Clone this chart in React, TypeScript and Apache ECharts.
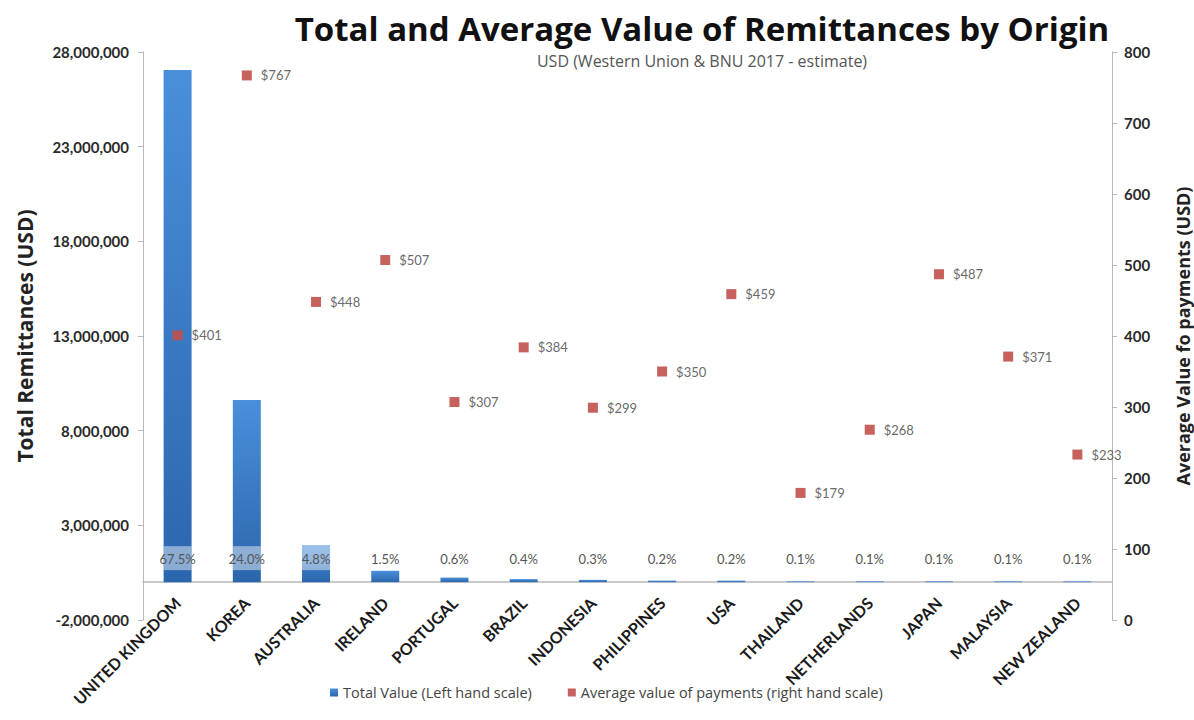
import React, { useEffect, useRef } from "react";
import * as echarts from "echarts";

const categories = [
  "UNITED KINGDOM", "KOREA", "AUSTRALIA", "IRELAND", "PORTUGAL", "BRAZIL", "INDONESIA",
  "PHILIPPINES", "USA", "THAILAND", "NETHERLANDS", "JAPAN", "MALAYSIA", "NEW ZEALAND",
];
const totalValues = [
  27050000, 9620000, 1930000, 600000, 240000, 160000, 120000,
  80000, 80000, 40000, 40000, 40000, 40000, 40000,
];
const shareLabels = [
  "67.5%", "24.0%", "4.8%", "1.5%", "0.6%", "0.4%", "0.3%",
  "0.2%", "0.2%", "0.1%", "0.1%", "0.1%", "0.1%", "0.1%",
];
const avgValues = [401, 767, 448, 507, 307, 384, 299, 350, 459, 179, 268, 487, 371, 233];

const leftTicks = { min: -2000000, max: 28000000, interval: 5000000 };
const rightTicks = { min: 0, max: 800, interval: 100 };

const FONT = "Lato, 'Open Sans', sans-serif";
const WIDE = "'Open Sans', Lato, sans-serif";

export default function App() {
  const ref = useRef<HTMLDivElement>(null);
  useEffect(() => {
    document.body.style.margin = "0";
    const chart = echarts.init(ref.current!, null, { renderer: "svg" });
    chart.setOption({
      animation: false,
      backgroundColor: "#ffffff",
      textStyle: { fontFamily: FONT },
      title: {
        text: "Total and Average Value of Remittances by Origin",
        subtext: "USD (Western Union & BNU 2017 - estimate)",
        left: 697,
        textAlign: "center",
        top: 7,
        itemGap: 8,
        textStyle: { fontFamily: WIDE, fontSize: 33, fontWeight: "bold", color: "#111" },
        subtextStyle: { fontFamily: WIDE, fontSize: 16, color: "#555" },
      },
      legend: {
        bottom: 15,
        left: 325,
        itemWidth: 8,
        itemHeight: 8,
        itemGap: 36,
        icon: "rect",
        textStyle: { fontFamily: WIDE, fontSize: 14.5, color: "#444" },
        data: [
          { name: "Total Value (Left hand scale)" },
          { name: "Average value of payments (right hand scale)" },
        ],
      },
      grid: { left: 143, right: 82, top: 52, bottom: 100, outerBoundsMode: "none", containLabel: false },
      xAxis: {
        type: "category",
        data: categories,
        axisLine: { onZero: true, lineStyle: { color: "#b8b8b8", width: 1.5 } },
        axisTick: { lineStyle: { color: "#b8b8b8" }, length: 6 },
        axisLabel: {
          interval: 0,
          rotate: 45,
          margin: -20,
          fontFamily: FONT,
          fontWeight: "bold",
          fontSize: 16,
          color: "#1a1a1a",
        },
      },
      yAxis: [
        {
          type: "value",
          min: leftTicks.min,
          max: leftTicks.max,
          interval: leftTicks.interval,
          name: "Total Remittances (USD)",
          nameLocation: "middle",
          nameGap: 108,
          nameTextStyle: { fontFamily: WIDE, fontSize: 21, fontWeight: "bold", color: "#222" },
          axisLine: { show: true, lineStyle: { color: "#b8b8b8" } },
          axisTick: { show: true, length: 5, lineStyle: { color: "#b8b8b8" } },
          splitLine: { show: false },
          axisLabel: {
            fontFamily: FONT,
            fontWeight: "bold",
            fontSize: 15,
            color: "#2a2a2a",
            margin: 14,
            formatter: (v: number) => v.toLocaleString("en-US"),
          },
        },
        {
          type: "value",
          min: rightTicks.min,
          max: rightTicks.max,
          interval: rightTicks.interval,
          position: "right",
          name: "Average Value fo payments (USD)",
          nameLocation: "middle",
          nameGap: 62,
          nameTextStyle: { fontFamily: WIDE, fontSize: 18, fontWeight: "bold", color: "#222" },
          axisLine: { show: true, lineStyle: { color: "#b8b8b8" } },
          axisTick: { show: true, length: 5, lineStyle: { color: "#b8b8b8" } },
          splitLine: { show: false },
          axisLabel: {
            fontFamily: FONT,
            fontWeight: "bold",
            fontSize: 15,
            color: "#2a2a2a",
            margin: 12,
          },
        },
      ],
      series: [
        {
          name: "Total Value (Left hand scale)",
          type: "bar",
          yAxisIndex: 0,
          barWidth: 28,
          data: totalValues,
          itemStyle: {
            color: new echarts.graphic.LinearGradient(0, 0, 0, 1, [
              { offset: 0, color: "#4a8fda" },
              { offset: 1, color: "#2b66ad" },
            ]),
          },
          label: {
            show: true,
            position: "insideBottom",
            distance: 12,
            fontFamily: FONT,
            fontSize: 13,
            color: "#555",
            backgroundColor: "rgba(255,255,255,0.45)",
            padding: [6, 0, 5, 0],
            width: 28,
            align: "center",
            formatter: (p: any) => shareLabels[p.dataIndex],
          },
        },
        {
          name: "Average value of payments (right hand scale)",
          type: "scatter",
          yAxisIndex: 1,
          symbol: "rect",
          symbolSize: 10,
          data: avgValues,
          itemStyle: { color: "#c0504d", opacity: 0.9 },
          label: {
            show: true,
            position: "right",
            distance: 9,
            fontFamily: FONT,
            fontSize: 13,
            color: "#555",
            formatter: (p: any) => "$" + p.value,
          },
        },
      ],
    });
    return () => chart.dispose();
  }, []);
  return <div ref={ref} style={{ width: 1194, height: 720 }} />;
}
